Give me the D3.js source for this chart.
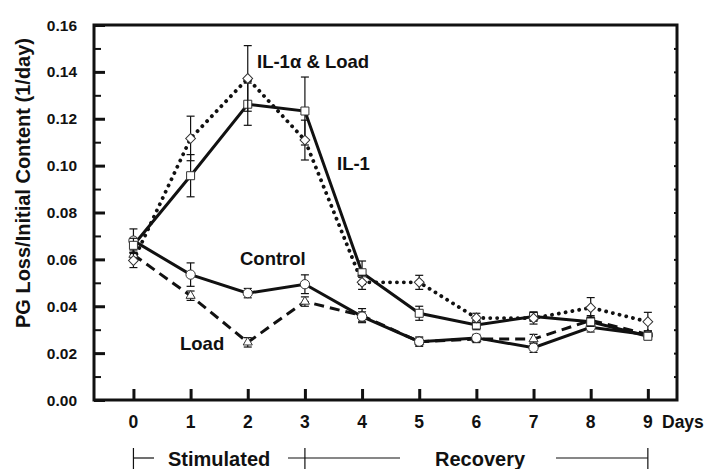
<!DOCTYPE html>
<html>
<head>
<meta charset="utf-8">
<script src="https://cdn.jsdelivr.net/npm/d3@7"></script>
<style>
	body { margin: 0; background: #fff; }
	text { font-family: "Liberation Sans", Arial, sans-serif; font-weight: bold; fill: #111; }
</style>
</head>
<body>
<svg id="chart" width="714" height="469"></svg>
<script>
const days = [0, 1, 2, 3, 4, 5, 6, 7, 8, 9];
const yTicks = [0, 0.02, 0.04, 0.06, 0.08, 0.10, 0.12, 0.14, 0.16];

const controlValues = [0.068, 0.0535, 0.0456, 0.0494, 0.0356, 0.0249, 0.0265, 0.0223, 0.031, 0.0278];
const controlErrors = [0.005, 0.005, 0.002, 0.004, 0.002, 0.0015, 0.0015, 0.002, 0.002, 0.0015];
const loadValues = [0.062, 0.0445, 0.0246, 0.042, 0.036, 0.0249, 0.026, 0.026, 0.034, 0.028];
const loadErrors = [0.002, 0.002, 0.002, 0.002, 0.003, 0.002, 0.0015, 0.002, 0.002, 0.0015];
const il1Values = [0.066, 0.0957, 0.1262, 0.1233, 0.0543, 0.0370, 0.032, 0.0356, 0.0334, 0.0272];
const il1Errors = [0.003, 0.009, 0.009, 0.0145, 0.005, 0.003, 0.002, 0.002, 0.002, 0.0015];
const il1LoadValues = [0.0595, 0.1116, 0.1372, 0.1109, 0.0502, 0.0502, 0.0350, 0.0349, 0.0394, 0.0334];
const il1LoadErrors = [0.003, 0.0095, 0.014, 0.0085, 0.003, 0.003, 0.002, 0.0025, 0.0043, 0.004];

const svg = d3.select('#chart');
const plotL = 94, plotR = 677, plotT = 25, plotB = 400;

const x = d3.scaleLinear().domain([-0.69, 9.51]).range([plotL, plotR]);
const y = d3.scaleLinear().domain([0, 0.16]).range([plotB, plotT]);

// frame
svg.append('rect')
	.attr('x', plotL).attr('y', plotT)
	.attr('width', plotR - plotL).attr('height', plotB - plotT)
	.attr('fill', 'none').attr('stroke', '#111').attr('stroke-width', 3);

// y axis: major ticks inside, minor ticks between
const yAxis = d3.axisRight(y).tickValues(yTicks).tickSize(11).tickFormat('');
svg.append('g').attr('transform', `translate(${plotL},0)`).call(yAxis)
	.call(g => g.select('.domain').remove())
	.call(g => g.selectAll('line').attr('stroke', '#111').attr('stroke-width', 3));
const yMinor = d3.axisRight(y).tickValues(d3.range(0.01, 0.16, 0.02)).tickSize(7).tickFormat('');
svg.append('g').attr('transform', `translate(${plotL},0)`).call(yMinor)
	.call(g => g.select('.domain').remove())
	.call(g => g.selectAll('line').attr('stroke', '#111').attr('stroke-width', 2));
const yRight = d3.axisLeft(y).tickValues(d3.range(0.01, 0.16, 0.01)).tickSize(3).tickFormat('');
svg.append('g').attr('transform', `translate(${plotR},0)`).call(yRight)
	.call(g => g.select('.domain').remove())
	.call(g => g.selectAll('line').attr('stroke', '#111').attr('stroke-width', 2));

svg.append('g').selectAll('text').data(yTicks).join('text')
	.attr('x', 77).attr('y', d => y(d)).attr('dy', '0.36em')
	.attr('text-anchor', 'end').attr('font-size', 15.5)
	.text(d => d.toFixed(2));

svg.append('text')
	.attr('transform', `translate(30,183) rotate(-90)`)
	.attr('text-anchor', 'middle').attr('font-size', 20)
	.text('PG Loss/Initial Content (1/day)');

// x axis: ticks inside pointing up
const xAxis = d3.axisTop(x).tickValues(days).tickSize(11).tickFormat('');
svg.append('g').attr('transform', `translate(0,${plotB})`).call(xAxis)
	.call(g => g.select('.domain').remove())
	.call(g => g.selectAll('line').attr('stroke', '#111').attr('stroke-width', 3));

svg.append('g').selectAll('text').data(days).join('text')
	.attr('x', d => x(d)).attr('y', 422).attr('dy', '0.36em')
	.attr('text-anchor', 'middle').attr('font-size', 17.5)
	.text(d => d);
svg.append('text').attr('x', 662).attr('y', 422).attr('dy', '0.36em')
	.attr('font-size', 17.5).text('Days');

// period annotation
const ann = svg.append('g').attr('stroke', '#111').attr('stroke-width', 1.2);
ann.append('line').attr('x1', x(0)).attr('x2', x(0)).attr('y1', 448).attr('y2', 469);
ann.append('line').attr('x1', x(0)).attr('x2', 154).attr('y1', 458).attr('y2', 458);
ann.append('line').attr('x1', 288).attr('x2', 400).attr('y1', 458).attr('y2', 458);
ann.append('line').attr('x1', x(3)).attr('x2', x(3)).attr('y1', 448).attr('y2', 469);
ann.append('line').attr('x1', 556).attr('x2', x(9)).attr('y1', 458).attr('y2', 458);
ann.append('line').attr('x1', x(9)).attr('x2', x(9)).attr('y1', 448).attr('y2', 469);
svg.append('text').attr('x', 168).attr('y', 459).attr('dy', '0.36em').attr('font-size', 20).text('Stimulated');
svg.append('text').attr('x', 435).attr('y', 459).attr('dy', '0.36em').attr('font-size', 20).text('Recovery');

const series = [
	{ name: 'Load', values: loadValues, errors: loadErrors, dash: '10,6', cap: 'butt', marker: 'triangle' },
	{ name: 'Control', values: controlValues, errors: controlErrors, dash: null, cap: 'butt', marker: 'circle' },
	{ name: 'IL-1', values: il1Values, errors: il1Errors, dash: null, cap: 'butt', marker: 'square' },
	{ name: 'IL-1 & Load', values: il1LoadValues, errors: il1LoadErrors, dash: '0.1,6.8', cap: 'round', marker: 'diamond' },
];

const line = d3.line().x((d, i) => x(days[i])).y(d => y(d));

series.forEach(s => {
	svg.append('path').datum(s.values)
		.attr('d', line)
		.attr('fill', 'none').attr('stroke', '#111')
		.attr('stroke-width', s.marker === 'diamond' ? 3.8 : 3)
		.attr('stroke-linecap', s.cap)
		.attr('stroke-dasharray', s.dash);
});

const symbols = {
	circle: d3.symbol(d3.symbolCircle, 68),
	square: d3.symbol(d3.symbolSquare, 64),
	triangle: d3.symbol(d3.symbolTriangle, 36),
	diamond: d3.symbol(d3.symbolSquare, 48),
};

series.forEach(s => {
	const g = svg.append('g');
	const pts = s.values.map((v, i) => ({ day: days[i], v, e: s.errors[i] }));
	const eb = g.selectAll('g.err').data(pts).join('g').attr('class', 'err')
		.attr('stroke', '#111').attr('stroke-width', 1.2);
	eb.append('line').attr('x1', d => x(d.day)).attr('x2', d => x(d.day))
		.attr('y1', d => y(d.v + d.e)).attr('y2', d => y(d.v - d.e));
	eb.append('line').attr('x1', d => x(d.day) - 4).attr('x2', d => x(d.day) + 4)
		.attr('y1', d => y(d.v + d.e)).attr('y2', d => y(d.v + d.e));
	eb.append('line').attr('x1', d => x(d.day) - 4).attr('x2', d => x(d.day) + 4)
		.attr('y1', d => y(d.v - d.e)).attr('y2', d => y(d.v - d.e));
	g.selectAll('path.mk').data(pts).join('path').attr('class', 'mk')
		.attr('d', symbols[s.marker])
		.attr('transform', d => `translate(${x(d.day)},${y(d.v)})` + (s.marker === 'diamond' ? ' rotate(45)' : ''))
		.attr('fill', '#fff').attr('stroke', '#333').attr('stroke-width', 1);
});

// direct labels
const labels = [
	{ text: 'IL-1\u03b1 & Load', x: 257, y: 61 },
	{ text: 'IL-1', x: 337, y: 163 },
	{ text: 'Control', x: 240, y: 258 },
	{ text: 'Load', x: 180, y: 343 },
];
svg.append('g').selectAll('text').data(labels).join('text')
	.attr('x', d => d.x).attr('y', d => d.y).attr('dy', '0.36em')
	.attr('font-size', 18.5).text(d => d.text);
</script>
</body>
</html>
